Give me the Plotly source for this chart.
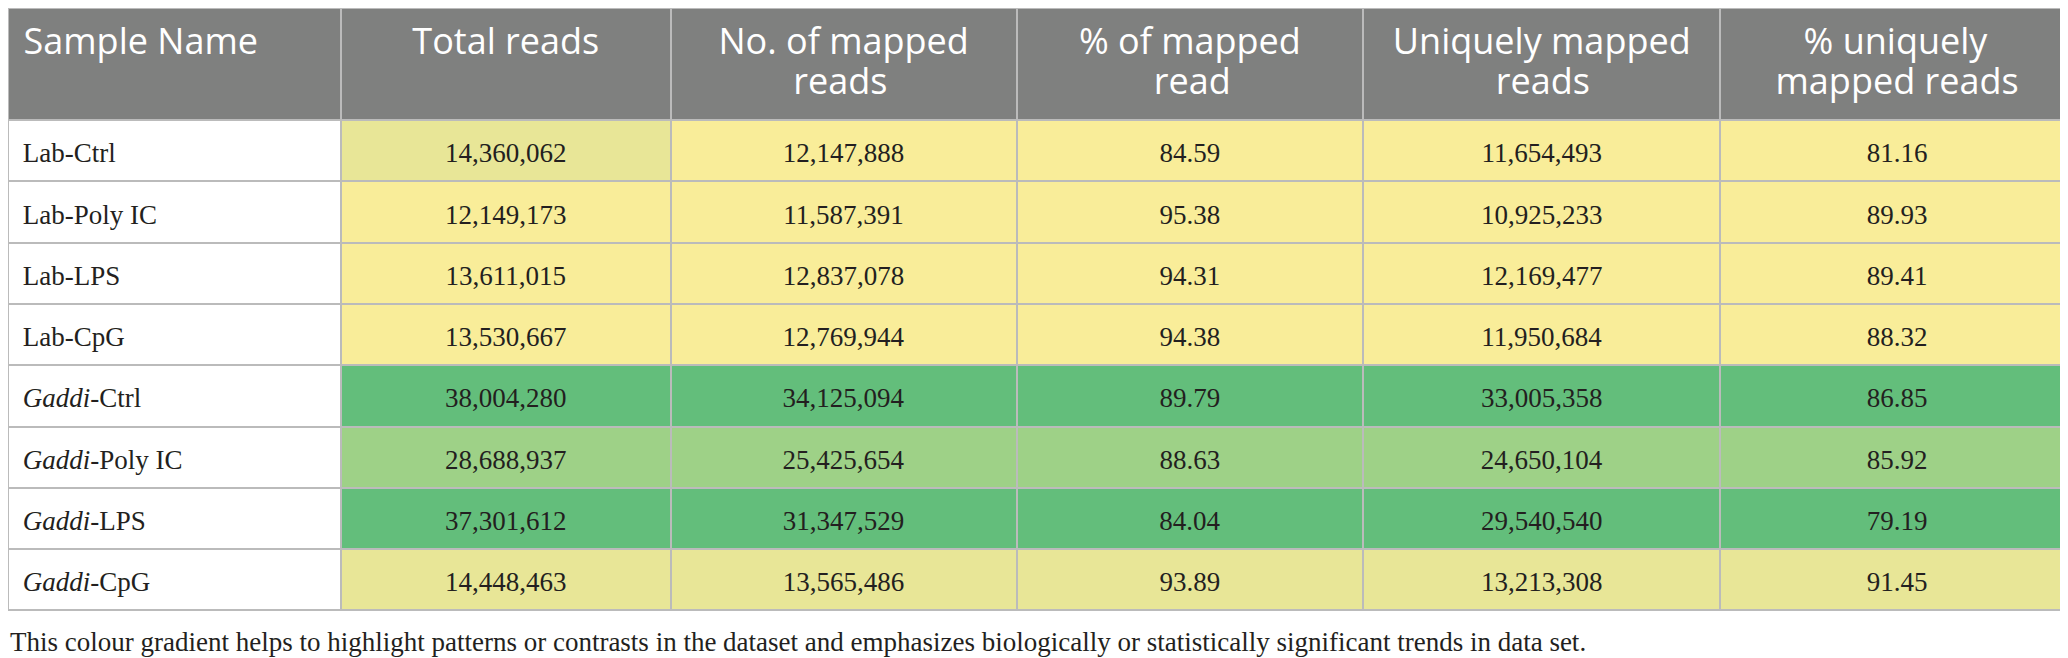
import plotly.graph_objects as go

# table values
samples = ["Lab-Ctrl", "Lab-Poly IC", "Lab-LPS", "Lab-CpG",
           "<i>Gaddi</i>-Ctrl", "<i>Gaddi</i>-Poly IC", "<i>Gaddi</i>-LPS", "<i>Gaddi</i>-CpG"]
total_reads = [14360062, 12149173, 13611015, 13530667, 38004280, 28688937, 37301612, 14448463]
mapped_reads = [12147888, 11587391, 12837078, 12769944, 34125094, 25425654, 31347529, 13565486]
pct_mapped = [84.59, 95.38, 94.31, 94.38, 89.79, 88.63, 84.04, 93.89]
unique_reads = [11654493, 10925233, 12169477, 11950684, 33005358, 24650104, 29540540, 13213308]
pct_unique = [81.16, 89.93, 89.41, 88.32, 86.85, 85.92, 79.19, 91.45]

# header lines (first, second)
headers = [("Sample Name", ""), ("Total reads", ""), ("No. of mapped", "reads"),
           ("% of mapped", "read"), ("Uniquely mapped", "reads"), ("% uniquely", "mapped reads")]
caption = ("This colour gradient helps to highlight patterns or contrasts in the dataset and "
           "emphasizes biologically or statistically significant trends in data set.")

# colour band of each row (first value column differs in row 1)
row_band = ["yellow", "yellow", "yellow", "yellow", "green", "lightgreen", "green", "olive"]
total_band = ["olive", "yellow", "yellow", "yellow", "green", "lightgreen", "green", "olive"]

PALETTE = {"yellow": "#F9ED99", "olive": "#E8E697", "green": "#63BE7B", "lightgreen": "#9ED187"}
GRID = "#BBBBBB"
NB = "\u00a0"

HEAD_PX, BODY_PX = 36, 27
# plotly tables top-align text; small base font + blank lines push text down
HEAD_BASE, BODY_BASE = 7.7, 15.6
# nbsp counts so the two header lines look centred on each other
head_shift = [(0, 0), (0, 0), (0, 8), (0, 8), (0, 11), (3, 0)]


def big(txt, px):
    return f"<span style='font-size:{px}px'>{txt}</span>"


def head_cell(i):
    a, b = headers[i]
    sa, sb = head_shift[i]
    if i == 0:
        a = big(NB, 29) + a
    lines = [NB] * 3 + [big(NB * sa + a, HEAD_PX)] + [NB] * 3 + [big(NB * sb + b if b else NB, HEAD_PX)]
    return "<br>".join(lines)


def body_cell(txt, left=False):
    if left:
        txt = NB + txt
    return NB + "<br>" + big(txt, BODY_PX)


cols = [
    [body_cell(s, left=True) for s in samples],
    [body_cell(f"{v:,}") for v in total_reads],
    [body_cell(f"{v:,}") for v in mapped_reads],
    [body_cell(f"{v:.2f}") for v in pct_mapped],
    [body_cell(f"{v:,}") for v in unique_reads],
    [body_cell(f"{v:.2f}") for v in pct_unique],
]

fills = [["white"] * len(samples), [PALETTE[b] for b in total_band]]
fills += [[PALETTE[b] for b in row_band] for _ in range(4)]

fig = go.Figure(go.Table(
    domain=dict(x=[0, 0.9995], y=[0, 1]),
    columnwidth=[333, 330, 346, 347, 357, 354],
    header=dict(
        values=[head_cell(i) for i in range(len(headers))],
        fill_color="#7F807F",
        line=dict(color=GRID, width=2),
        align=["left"] + ["center"] * 5,
        font=dict(family="Open Sans", size=HEAD_BASE, color="white"),
        height=112,
    ),
    cells=dict(
        values=cols,
        fill_color=fills,
        line=dict(color=GRID, width=2),
        align=["left"] + ["center"] * 5,
        font=dict(family="Liberation Serif", size=BODY_BASE, color="#231F20"),
        height=61.3,
    ),
))

fig.add_annotation(
    text=caption, xref="paper", yref="paper", x=0, y=1 - 634 / 658,
    xanchor="left", yanchor="middle", showarrow=False,
    font=dict(family="Liberation Serif", size=27, color="#231F20"),
)

fig.update_layout(
    width=2068, height=658, autosize=False,
    margin=dict(t=0, b=0, l=0, r=0),
    paper_bgcolor="white",
)

fig.write_html("out.html")
